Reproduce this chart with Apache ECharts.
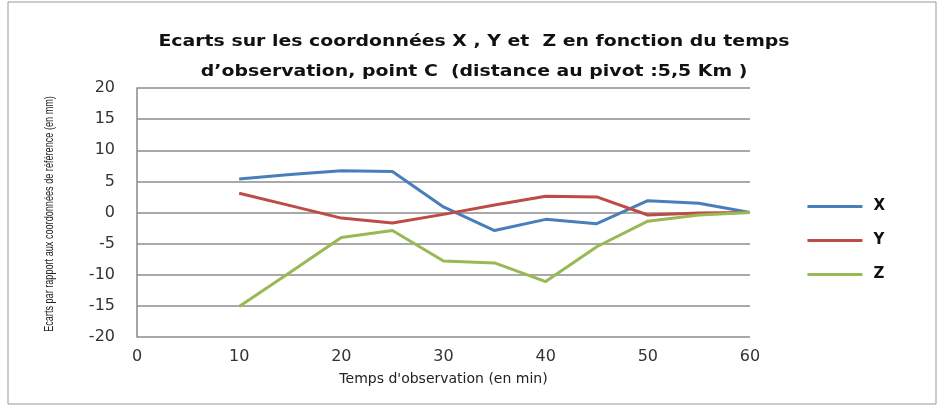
<!DOCTYPE html>
<html>
<head>
<meta charset="utf-8">
<script src="https://cdn.jsdelivr.net/npm/echarts@6/dist/echarts.min.js"></script>
<style>
  html, body { margin: 0; padding: 0; background: #fff; }
  #chart { width: 940px; height: 405px; }
</style>
</head>
<body>
<div id="chart"></div>
<script>
// temps d'observation (min)
var temps = [10, 15, 20, 25, 30, 35, 40, 45, 50, 55, 60];
var ecartX = [5.4, 6.1, 6.7, 6.6, 0.9, -2.9, -1.1, -1.8, 1.9, 1.5, 0];
var ecartY = [3.1, 1.1, -0.9, -1.7, -0.3, 1.2, 2.6, 2.5, -0.4, -0.1, 0];
var ecartZ = [-15.1, -9.6, -4.0, -2.9, -7.8, -8.1, -11.1, -5.5, -1.4, -0.4, 0];
var titre = ['Ecarts sur les coordonnées X , Y et  Z en fonction du temps',
             'd\u2019observation, point C  (distance au pivot :5,5 Km )'];
var titreY = 'Ecarts par rapport aux coordonnées de référence (en mm)';

function pts(vals) {
  var out = [];
  for (var i = 0; i < temps.length; i++) out.push([temps[i], vals[i]]);
  return out;
}

var myChart = echarts.init(document.getElementById('chart'));
var fnt = 'DejaVu Sans';
var titleStyle = { fontFamily: fnt, fontWeight: 'bold', fontSize: 16, fill: '#111', align: 'center', verticalAlign: 'middle' };
var option = {
  animation: false,
  graphic: [
    { type: 'rect', shape: { x: 8, y: 2, width: 928, height: 402 }, silent: true,
      style: { fill: 'none', stroke: '#999', lineWidth: 1 } },
    { type: 'text', x: 474, y: 42, scaleX: 1.18, silent: true,
      style: Object.assign({ text: titre[0] }, titleStyle) },
    { type: 'text', x: 474, y: 72, scaleX: 1.18, silent: true,
      style: Object.assign({ text: titre[1] }, titleStyle) },
    // titre de l'axe vertical
    { type: 'text', x: 50, y: 214, rotation: Math.PI / 2, scaleX: 0.76, silent: true,
      style: { text: titreY, fontFamily: 'Liberation Sans', fontSize: 12, fill: '#222', align: 'center', verticalAlign: 'middle' } }
  ],
  legend: {
    orient: 'vertical', right: 50, top: 194, itemGap: 19,
    itemWidth: 55, itemHeight: 14, icon: 'path://M0,6 L55,6 L55,9 L0,9 Z',
    textStyle: { fontFamily: fnt, fontWeight: 'bold', fontSize: 15, color: '#111', padding: [0, 0, 0, 6] },
    data: ['X', 'Y', 'Z']
  },
  grid: { left: 137, right: 190, top: 88, bottom: 68 },
  xAxis: {
    type: 'value', min: 0, max: 60, interval: 10,
    name: 'Temps d\'observation (en min)', nameLocation: 'middle', nameGap: 35,
    nameTextStyle: { fontFamily: fnt, fontSize: 14, color: '#222' },
    axisLine: { show: false },
    axisTick: { show: false },
    splitLine: { show: false },
    axisLabel: { fontFamily: fnt, fontSize: 16, color: '#333', margin: 12 }
  },
  yAxis: {
    type: 'value', min: -20, max: 20, interval: 5,
    axisLine: { show: true, lineStyle: { color: '#888', width: 1.5 } },
    axisTick: { show: false },
    splitLine: { lineStyle: { color: '#8c8c8c', width: 1.5 } },
    axisLabel: { fontFamily: fnt, fontSize: 16, color: '#333', margin: 22 }
  },
  series: [
    { name: 'X', type: 'line', data: pts(ecartX), showSymbol: false, lineStyle: { color: '#4a7ebb', width: 3 }, itemStyle: { color: '#4a7ebb' } },
    { name: 'Y', type: 'line', data: pts(ecartY), showSymbol: false, lineStyle: { color: '#be4b48', width: 3 }, itemStyle: { color: '#be4b48' } },
    { name: 'Z', type: 'line', data: pts(ecartZ), showSymbol: false, lineStyle: { color: '#98b954', width: 3 }, itemStyle: { color: '#98b954' } }
  ]
};
myChart.setOption(option, true);
</script>
</body>
</html>
